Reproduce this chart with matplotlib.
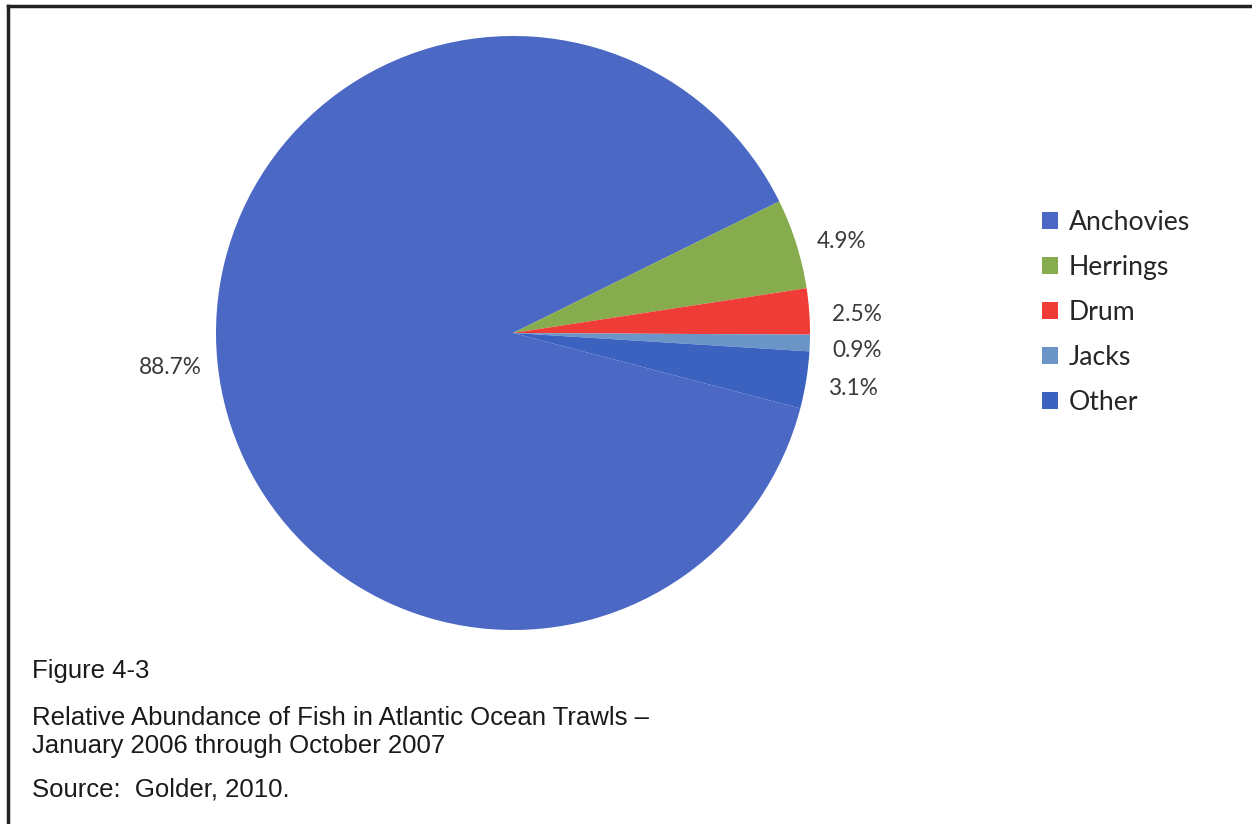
import matplotlib
matplotlib.use("Agg")
import matplotlib.pyplot as plt
from matplotlib.lines import Line2D

# data
species = ["Anchovies", "Herrings", "Drum", "Jacks", "Other"]
shares = [88.7, 4.9, 2.5, 0.9, 3.1]
colors = ["#4a68c4", "#86ac4e", "#f03c36", "#6a95c6", "#3c62c0"]

# small vertical nudges of the percentage labels (px), as placed in the original
label_nudge = [0, -12, -7, -6, -1]

W, H = 1252, 824
fig = plt.figure(figsize=(W / 100, H / 100), dpi=100)

# pie centre (513, 333) px, radius 297 px
cx, cy, r = 513, 333, 297
ax = fig.add_axes([(cx - r) / W, (H - cy - r) / H, 2 * r / W, 2 * r / H])
total = sum(shares)
wedges, texts, autotexts = ax.pie(
    shares, colors=colors, startangle=-14.7, counterclock=False,
    autopct=lambda p: f"{p * total / 100:.1f}%", pctdistance=1.16, radius=1,
    wedgeprops=dict(linewidth=0),
    textprops=dict(fontsize=16.3, color="#3a3a3a", family="Lato"))
for t, dy in zip(autotexts, label_nudge):
    x, y = t.get_position()
    t.set_position((x, y + dy / r))
ax.set_xlim(-1, 1)
ax.set_ylim(-1, 1)
ax.set_aspect("equal")
ax.axis("off")

fig.legend(wedges, species, loc="upper left", bbox_to_anchor=(1018 / W, 1 - 186 / H),
           frameon=False, prop=dict(family="Lato", size=19.2), labelcolor="#262626",
           handlelength=0.6, handleheight=0.6, handletextpad=0.4, labelspacing=0.75)

# caption
cap = dict(family="Liberation Sans", size=18.5, color="#1a1a1a", va="center", ha="left")
fig.text(32 / W, 1 - 671 / H, "Figure 4-3", **cap)
fig.text(32 / W, 1 - 718 / H, "Relative Abundance of Fish in Atlantic Ocean Trawls \u2013", **cap)
fig.text(32 / W, 1 - 746 / H, "January 2006 through October 2007", **cap)
fig.text(32 / W, 1 - 790 / H, "Source:  Golder, 2010.", **cap)

# frame around the figure (left and top edges visible)
fig.add_artist(Line2D([8 / W, 8 / W], [0, 1 - 6 / H], color="#222222", lw=2.5))
fig.add_artist(Line2D([8 / W, 1], [1 - 6 / H, 1 - 6 / H], color="#222222", lw=2.5))

fig.savefig("out.png", dpi=100)
